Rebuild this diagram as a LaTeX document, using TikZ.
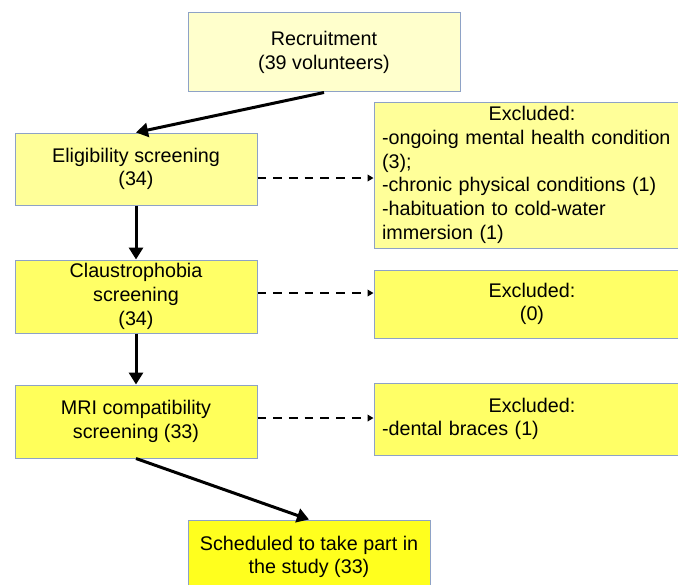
\documentclass[tikz,border=0pt]{standalone}
\usepackage{fontspec}
\setmainfont{Liberation Sans}
\usetikzlibrary{positioning,arrows.meta}
\definecolor{boxline}{HTML}{8EA2C6}
\definecolor{paleyel}{HTML}{FFFFCC}
\definecolor{lightyel}{HTML}{FFFF99}
\definecolor{midyel}{HTML}{FFFF66}
\definecolor{mriyel}{HTML}{FFFF5A}
\definecolor{fullyel}{HTML}{FFFF1E}
\tikzset{
  box/.style={draw=boxline, line width=0.75pt, inner sep=0pt, align=center,
    font=\fontsize{14.8}{17.8}\selectfont},
  sidebox/.style={box, minimum width=237pt, inner xsep=6pt, text width=225pt, align=left},
  flowarrow/.style={line width=2.25pt, -{Triangle[length=9pt,width=10.5pt]}},
  dasharrow/.style={line width=1.4pt, dash pattern=on 6.5pt off 5.3pt,
    -{Triangle[length=4.5pt,width=5pt]}}
}
\begin{document}
\begin{tikzpicture}[x=0.75pt,y=-0.75pt]
  \clip (0,0) rectangle (678,585);
  % main column
  \node[box, fill=paleyel, minimum width=204pt, minimum height=59.25pt] (recruit) at (324,52.5) {Recruitment\\(39 volunteers)};
  \node[box, fill=lightyel, minimum width=181.5pt, minimum height=54pt] (elig) at (136,169) {Eligibility screening\\(34)};
  \node[box, fill=midyel, minimum width=181.5pt, minimum height=54.75pt] (claus) at (136,296.5) {Claustrophobia\\screening\\(34)};
  \node[box, fill=mriyel, minimum width=181.5pt, minimum height=54.75pt] (mri) at (136,421.5) {MRI compatibility\\screening (33)};
  \node[box, fill=fullyel, minimum width=181.5pt, minimum height=55.5pt] (final) at (309,557) {Scheduled to take part in\\the study (33)};
  % excluded boxes
  \node[sidebox, fill=lightyel, minimum height=109.5pt] (excl1) at (532,175) {{\centering Excluded:\par}-ongoing mental health condition\\(3);\\-chronic physical conditions (1)\\-habituation to cold-water\\immersion (1)};
  \node[sidebox, fill=midyel, minimum height=51pt] (excl2) at (532,304) {{\centering Excluded:\\(0)\par}};
  \node[sidebox, fill=midyel, minimum height=54pt] (excl3) at (532,419) {{\centering Excluded:\par}-dental braces (1)};
  % arrows
  \draw[flowarrow] (recruit.south) -- (elig.north);
  \draw[flowarrow] (elig.south) -- (claus.north);
  \draw[flowarrow] (claus.south) -- (mri.north);
  \draw[flowarrow] (mri.south) -- (final.north);
  \coordinate (e1) at ([yshift=-6.75pt]elig.east);
  \coordinate (e2) at ([yshift=2.6pt]claus.east);
  \coordinate (e3) at ([yshift=2.6pt]mri.east);
  \draw[dasharrow] (e1) -- (e1 -| excl1.west);
  \draw[dasharrow] (e2) -- (e2 -| excl2.west);
  \draw[dasharrow] (e3) -- (e3 -| excl3.west);
\end{tikzpicture}
\end{document}
